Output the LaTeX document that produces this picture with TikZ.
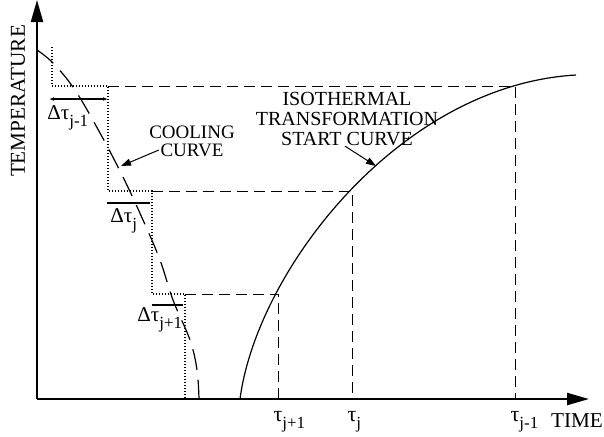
\documentclass[tikz,border=0pt]{standalone}
\usepackage{fontspec}
\setmainfont{Liberation Serif}
\usetikzlibrary{arrows.meta}

\newcommand{\lowsub}[1]{\raisebox{-3.6pt}{\fontsize{8.5}{8.5}\selectfont #1}}

\begin{document}
\begin{tikzpicture}[x=0.5pt, y=-0.5pt,
  axis/.style={line width=1.1pt, -{Triangle[length=11pt, width=6pt]}},
  guide/.style={line width=0.5pt, dash pattern=on 5.5pt off 3pt},
  stairs/.style={line width=0.55pt, dash pattern=on 0.5pt off 1pt},
  cooling/.style={line width=0.6pt, dash pattern=on 10.5pt off 5pt},
  startcurve/.style={line width=0.6pt},
  interval/.style={line width=0.6pt},
  pointer/.style={line width=0.5pt, -{Triangle[length=5pt, width=3.5pt]}},
  lbl/.style={font=\fontsize{9.5}{9}\selectfont, align=center, inner sep=0pt},
  axlbl/.style={font=\fontsize{10.6}{10.6}\selectfont, inner sep=0pt},
  tick/.style={font=\fontsize{11}{11}\selectfont, inner sep=0pt, anchor=base}
]
\useasboundingbox (0,0) rectangle (604,436);

% Axes
\coordinate (O) at (37,399);
\coordinate (ytop) at (37,0);
\coordinate (xend) at (589,399);
\draw[axis] (O) -- (ytop);
\draw[axis] (O) -- (xend);

% Cooling curve
\draw[cooling] plot[smooth, tension=0.6] coordinates {(37,50) (53,63) (75,90) (100,133)
  (123,177) (143,220) (160,260) (173,300) (190,340) (197,370) (199,399)};

% Step approximation
\draw[stairs] (52,47) -- (52,86) -- (108,86) -- (108,191) -- (152,191) -- (152,294)
  -- (185,294) -- (185,399);

% Isothermal transformation start curve
\draw[startcurve] (240,399) .. controls (257,270) and (400,85) .. (576,75);

% Projections to the time axis
\draw[guide] (108,86) -- (515,86) -- (515,399);
\draw[guide] (152,191) -- (352,191) -- (352,399);
\draw[guide] (185,294) -- (278,294) -- (278,399);

% Time intervals
\draw[interval, {Latex[length=2.5pt]}-{Latex[length=2.5pt]}] (49,99) -- (108,99);
\draw[interval] (107,203) -- (150,203);
\draw[interval] (152,305) -- (183,305);
\node[tick, anchor=base west, font=\fontsize{10.5}{10.5}\selectfont] (dtprev) at (47,119) {Δτ\lowsub{j-1}};
\node[tick, anchor=base west, font=\fontsize{10.5}{10.5}\selectfont] (dtcur) at (110,222) {Δτ\lowsub{j}};
\node[tick, anchor=base west, font=\fontsize{10.5}{10.5}\selectfont] (dtnext) at (137,321) {Δτ\lowsub{j+1}};

% Times
\node[tick] (tnext) at (278,421) {τ\rlap{\lowsub{j+1}}};
\node[tick] (tcur) at (352,421) {τ\rlap{\lowsub{j}}};
\node[tick] (tprev) at (515,421) {τ\rlap{\lowsub{j-1}}};

% Axis labels
\node[axlbl, rotate=90] (temp) at (18,101) {TEMPERATURE};
\node[axlbl] (time) at (577,421) {TIME};

% Curve labels
\node[lbl] (cool) at (192,141) {COOLING\\CURVE};
\coordinate (ctip) at (121,166);
\draw[pointer] ([shift={(10,9)}]cool.west) -- (ctip);

\node[lbl, font=\fontsize{10}{10}\selectfont] (iso) at (347,119)
  {ISOTHERMAL\\TRANSFORMATION\\START CURVE};
\coordinate (itip) at (376,166);
\draw[pointer] ([xshift=-1pt]iso.south) -- (itip);

\end{tikzpicture}
\end{document}
